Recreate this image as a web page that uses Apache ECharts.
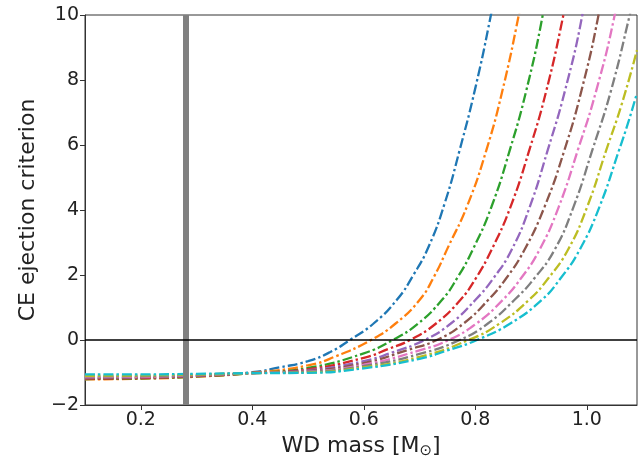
<!DOCTYPE html>
<html>
<head>
<meta charset="utf-8">
<script src="https://cdn.jsdelivr.net/npm/echarts@6/dist/echarts.min.js"></script>
<style>html,body{margin:0;padding:0;background:#fff}#c{width:643px;height:464px}</style>
</head>
<body>
<div id="c"></div>
<script>
const xTicks = [0.2, 0.4, 0.6, 0.8, 1.0];
const yTicks = [-2, 0, 2, 4, 6, 8, 10];
const wdLine = 0.276;
const zeroLine = 0;
const colors = ['#1f77b4','#ff7f0e','#2ca02c','#d62728','#9467bd','#8c564b','#e377c2','#7f7f7f','#bcbd22','#17becf'];

const s1 = [[0.10,-1.20],[0.20,-1.18],[0.30,-1.12],[0.40,-0.99],[0.45,-0.84],[0.50,-0.65],[0.54,-0.37],[0.575,0],[0.617,0.50],[0.659,1.23],[0.689,2.00],[0.717,2.90],[0.745,4.20],[0.772,5.85],[0.800,7.75],[0.828,10],[0.85,12]];
const s2 = [[0.10,-1.21],[0.20,-1.19],[0.30,-1.13],[0.40,-1.01],[0.50,-0.78],[0.55,-0.50],[0.613,0],[0.6565,0.50],[0.700,1.23],[0.726,1.95],[0.751,2.85],[0.786,4.15],[0.820,5.85],[0.849,7.70],[0.878,10],[0.90,12]];
const s3 = [[0.10,-1.20],[0.20,-1.18],[0.30,-1.12],[0.40,-1.02],[0.50,-0.86],[0.60,-0.41],[0.652,0],[0.697,0.50],[0.740,1.23],[0.768,1.92],[0.796,2.80],[0.829,4.10],[0.862,5.85],[0.8915,7.68],[0.921,10],[0.94,12]];
const s4 = [[0.10,-1.19],[0.20,-1.17],[0.30,-1.11],[0.40,-1.02],[0.50,-0.90],[0.60,-0.55],[0.645,-0.27],[0.683,0],[0.729,0.50],[0.773,1.23],[0.801,1.90],[0.829,2.77],[0.863,4.09],[0.897,5.85],[0.9275,7.68],[0.958,10],[0.98,12]];
const s5 = [[0.10,-1.17],[0.20,-1.15],[0.30,-1.10],[0.40,-1.02],[0.50,-0.93],[0.60,-0.65],[0.65,-0.39],[0.709,0],[0.7555,0.50],[0.800,1.23],[0.8325,1.90],[0.865,2.77],[0.8975,4.09],[0.930,5.85],[0.961,7.68],[0.992,10],[1.01,12]];
const s6 = [[0.10,-1.16],[0.20,-1.14],[0.30,-1.09],[0.40,-1.02],[0.50,-0.95],[0.60,-0.71],[0.68,-0.30],[0.731,0],[0.7785,0.50],[0.823,1.23],[0.8555,1.90],[0.888,2.77],[0.924,4.09],[0.960,5.85],[0.9905,7.68],[1.021,10],[1.04,12]];
const s7 = [[0.10,-1.14],[0.20,-1.13],[0.30,-1.08],[0.40,-1.02],[0.50,-0.97],[0.60,-0.76],[0.70,-0.32],[0.752,0],[0.8015,0.50],[0.849,1.23],[0.882,1.90],[0.915,2.77],[0.9495,4.09],[0.984,5.85],[1.017,7.68],[1.050,10],[1.07,12]];
const s8 = [[0.10,-1.12],[0.20,-1.11],[0.30,-1.07],[0.40,-1.02],[0.50,-0.98],[0.60,-0.80],[0.70,-0.43],[0.772,0],[0.822,0.50],[0.870,1.23],[0.906,1.90],[0.942,2.77],[0.976,4.09],[1.010,5.85],[1.0435,7.68],[1.077,10],[1.09,11]];
const s9 = [[0.10,-1.10],[0.20,-1.09],[0.30,-1.06],[0.40,-1.02],[0.50,-1.00],[0.60,-0.84],[0.70,-0.52],[0.788,0],[0.843,0.50],[0.896,1.23],[0.931,1.90],[0.966,2.77],[1.0005,4.09],[1.035,5.85],[1.0625,7.25],[1.09,8.92]];
const s10 = [[0.10,-1.06],[0.20,-1.06],[0.30,-1.04],[0.40,-1.02],[0.50,-1.01],[0.60,-0.87],[0.70,-0.58],[0.75,-0.32],[0.803,0],[0.862,0.50],[0.919,1.23],[0.953,1.90],[0.987,2.77],[1.0225,4.09],[1.058,5.85],[1.074,6.68],[1.09,7.6]];
const allSeries = [s1,s2,s3,s4,s5,s6,s7,s8,s9,s10];

const font = 'DejaVu Sans';
const chart = echarts.init(document.getElementById('c'));
const series = allSeries.map((d, i) => ({
  type: 'line', data: d, smooth: 0.5, showSymbol: false, symbol: 'none',
  clip: true, z: 3,
  lineStyle: { color: colors[i], width: 2.3, type: [10, 3, 2.5, 3] }
}));
series.push({
  type: 'line', data: [], z: 5,
  markLine: {
    silent: true, symbol: 'none', animation: false,
    label: { show: false },
    data: [
      { xAxis: wdLine, lineStyle: { color: '#808080', width: 6, type: 'solid' } },
      { yAxis: zeroLine, lineStyle: { color: '#000', width: 1.6, type: 'solid' } }
    ]
  }
});
chart.setOption({
  animation: false,
  grid: { left: 85, right: 6, top: 15, bottom: 59, show: true, borderColor: '#333', borderWidth: 1, backgroundColor: 'transparent' },
  xAxis: {
    type: 'value', min: 0.1, max: 1.09,
    name: 'WD mass [M{s|⊙}]', nameLocation: 'middle', nameGap: 28,
    nameTextStyle: { fontFamily: font, fontSize: 22, color: '#222', rich: { s: { fontFamily: font, fontSize: 15, color: '#222', padding: [10, 0, 0, 0] } } },
    splitLine: { show: false },
    axisLine: { onZero: false, lineStyle: { color: '#333' } },
    axisTick: { show: true, length: 5, customValues: xTicks, lineStyle: { color: '#333' } },
    axisLabel: { customValues: xTicks, fontFamily: font, fontSize: 19, color: '#222', margin: 6, formatter: v => v.toFixed(1) }
  },
  yAxis: {
    type: 'value', min: -2, max: 10, interval: 2,
    name: 'CE ejection criterion', nameLocation: 'middle', nameGap: 46,
    nameTextStyle: { fontFamily: font, fontSize: 22, color: '#222' },
    splitLine: { show: false },
    axisLine: { show: true, onZero: false, lineStyle: { color: '#333' } },
    axisTick: { show: true, length: 5, customValues: yTicks, lineStyle: { color: '#333' } },
    axisLabel: { customValues: yTicks, fontFamily: font, fontSize: 19, color: '#222', margin: 6, formatter: v => (v < 0 ? '\u2212' + Math.abs(v) : String(v)) }
  },
  series: series
});
</script>
</body>
</html>
